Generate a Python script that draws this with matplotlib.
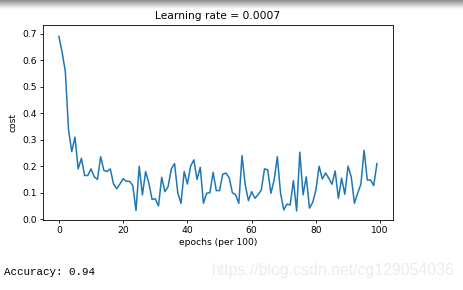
import matplotlib
matplotlib.use("Agg")
import matplotlib.pyplot as plt
import numpy as np

title = "Learning rate = 0.0007"
xlabel = "epochs (per 100)"
ylabel = "cost"
accuracy_text = "Accuracy: 0.94"
watermark = "https://blog.csdn.net/cg129054036"

costs = [0.69, 0.63, 0.557, 0.337, 0.255, 0.31, 0.19, 0.23, 0.165, 0.165,
         0.19, 0.16, 0.15, 0.236, 0.184, 0.18, 0.19, 0.133, 0.115, 0.133,
         0.153, 0.143, 0.143, 0.127, 0.033, 0.2, 0.092, 0.18, 0.136, 0.075,
         0.077, 0.05, 0.158, 0.104, 0.123, 0.19, 0.21, 0.10, 0.06, 0.18,
         0.133, 0.2, 0.224, 0.15, 0.196, 0.06, 0.098, 0.10, 0.177, 0.108,
         0.108, 0.17, 0.174, 0.157, 0.10, 0.092, 0.06, 0.24, 0.13, 0.07,
         0.104, 0.079, 0.092, 0.11, 0.19, 0.186, 0.098, 0.148, 0.236, 0.098,
         0.035, 0.057, 0.054, 0.146, 0.031, 0.253, 0.092, 0.16, 0.042, 0.063,
         0.11, 0.2, 0.152, 0.174, 0.155, 0.132, 0.182, 0.079, 0.155, 0.094,
         0.2, 0.16, 0.06, 0.098, 0.132, 0.26, 0.148, 0.148, 0.127, 0.21]

fs = 6.6
fig = plt.figure(figsize=(4.64, 2.90), dpi=100)
fig.patch.set_facecolor("white")

# top gray bar
bar = fig.add_axes([0, 1 - 9 / 290, 1, 9 / 290])
grad = np.linspace(0.55, 1.0, 50).reshape(-1, 1)
bar.imshow(grad, cmap="gray", vmin=0, vmax=1, aspect="auto", extent=[0, 1, 0, 1])
bar.axis("off")

ax = fig.add_axes([43 / 464, 1 - 220 / 290, 350 / 464, 195 / 290])
ax.plot(np.arange(len(costs)), costs, color="#1f77b4", linewidth=1.1)
ax.set_title(title, fontsize=7.7, pad=4)
ax.set_xlabel(xlabel, fontsize=fs, labelpad=2)
ax.set_ylabel(ylabel, fontsize=fs, labelpad=3)
ax.set_xlim(-4.95, 104.0)
ax.set_ylim(-0.003, 0.733)
ax.set_xticks([0, 20, 40, 60, 80, 100])
ax.set_yticks([0.0, 0.1, 0.2, 0.3, 0.4, 0.5, 0.6, 0.7])
ax.tick_params(labelsize=fs, length=2.5, width=0.6, pad=2)
for s in ax.spines.values():
    s.set_linewidth(0.6)

fig.text(4 / 464, 1 - 272 / 290, accuracy_text, family="Liberation Mono",
         fontsize=7.8, va="center", ha="left", color="black")
fig.text(455 / 464, 1 - 271 / 290, watermark, family="Liberation Sans",
         fontsize=11.4, va="center", ha="right", color="#ececec")

fig.savefig("out.png", dpi=100)
